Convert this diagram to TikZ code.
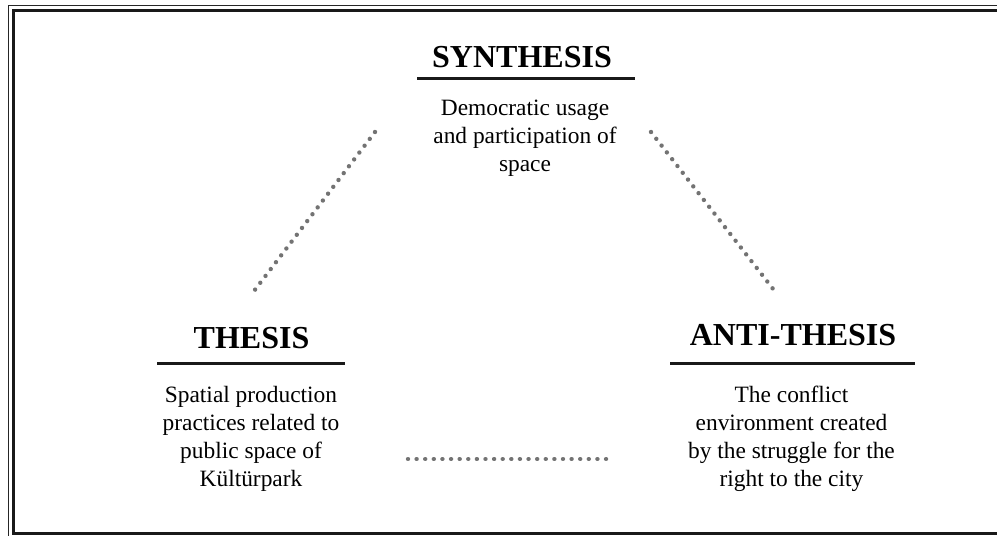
\documentclass[tikz,border=0pt]{standalone}
\usepackage{fontspec}
\setmainfont{Liberation Serif}
\newcommand\bodytxt[1]{\begin{tabular}[t]{@{}c@{}}#1\end{tabular}}
\begin{document}
\begin{tikzpicture}[x=1pt,y=-1pt,
  ttl/.style={font=\fontsize{32}{36}\selectfont\bfseries, inner sep=0pt, anchor=base},
  body/.style={font=\fontsize{23.4}{28.3}\selectfont, inner sep=0pt, anchor=base},
  rule/.style={line width=3pt, black!90},
  dots/.style={draw=black!55, line width=4.4pt, line cap=round, dash pattern=on 0.01pt off 8.6pt}]
\useasboundingbox (0,0) rectangle (997,536);
\begin{scope}
\clip (0,0) rectangle (997,536);
\draw[line width=1.8pt, black!85] (8.5,5.5) rectangle (1010,550);
\draw[line width=3pt, black!90] (13,10.5) rectangle (1010,533.5);
\end{scope}
% synthesis
\node[ttl] (syn) at (522,67) {SYNTHESIS};
\draw[rule] (417,78) -- (635,78);
\node[body] (synb) at (525,115) {\bodytxt{Democratic usage\\and participation of\\space}};
% thesis
\node[ttl] (the) at (251.5,348) {THESIS};
\draw[rule] (157,363) -- (345,363);
\node[body] (theb) at (251,402) {\bodytxt{Spatial production\\practices related to\\public space of\\Kültürpark}};
% anti-thesis
\node[ttl] (ant) at (793,345) {ANTI-THESIS};
\draw[rule] (670,363) -- (915,363);
\node[body] (antb) at (791.5,402) {\bodytxt{The conflict\\environment created\\by the struggle for the\\right to the city}};
% dotted connectors
\coordinate (sl) at (375,132);
\coordinate (tl) at (251,295);
\coordinate (sr) at (651,132);
\coordinate (ar) at (777,294);
\coordinate (bl) at (408,459);
\coordinate (br) at (612,459);
\draw[dots] (sl) -- (tl);
\draw[dots] (sr) -- (ar);
\draw[dots] (bl) -- (br);
\end{tikzpicture}
\end{document}
